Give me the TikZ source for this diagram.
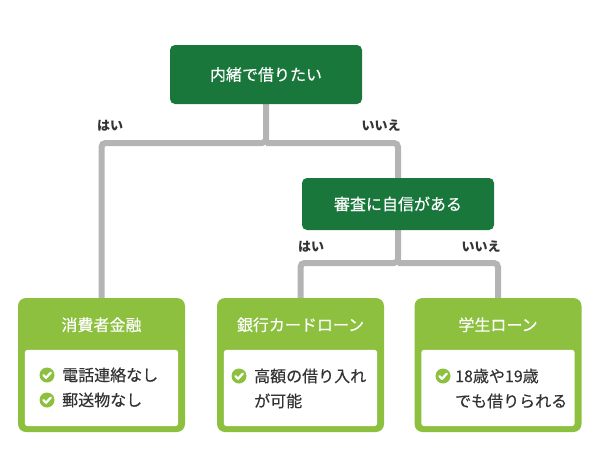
\documentclass[tikz,border=0pt]{standalone}
\usepackage{fontspec}
\setmainfont{Noto Sans CJK JP}
\newfontfamily\medfont{Noto Sans CJK JP}[FakeBold=0.35]
\usetikzlibrary{calc,backgrounds}
\definecolor{dgreen}{HTML}{1A773C}
\definecolor{lgreen}{HTML}{8DC03F}
\definecolor{lgray}{HTML}{B4B4B4}
\definecolor{txt}{HTML}{333333}
\begin{document}
\begin{tikzpicture}[x=1pt,y=-1pt,
  dbox/.style={fill=dgreen, rounded corners=5pt, text=white, minimum width=192pt, inner sep=0pt, font=\medfont\fontsize{16}{18}\selectfont},
  lbox/.style={fill=lgreen, rounded corners=8pt, minimum width=167pt, minimum height=134pt, inner sep=0pt},
  head/.style={text=white, font=\medfont\fontsize{16}{18}\selectfont, inner sep=0pt},
  body/.style={text=txt, font=\medfont\fontsize{16}{18}\selectfont, inner sep=0pt, anchor=base west},
  yn/.style={text=txt, font=\fontsize{13}{15}\selectfont\bfseries, inner sep=0pt},
  conn/.style={draw=lgray, line width=6pt, rounded corners=4pt},
  chk/.pic={\fill[lgreen] (0,0) circle (7.5pt);
            \draw[white, line width=2.3pt, line cap=round, line join=round] (-3.6,0.2) -- (-1,2.8) -- (3.8,-2.4);}
]
\useasboundingbox (0,0) rectangle (600,475);
\node[dbox, minimum height=59pt] (top) at (266,74.5) {内緒で借りたい};
\node[dbox, minimum height=52pt] (q2) at (398,204) {審査に自信がある};
\node[lbox] (b1) at (101.5,365) {};
\node[lbox] (b2) at (300.5,365) {};
\node[lbox] (b3) at (498,365) {};
\foreach \b in {b1,b2,b3}{
  \fill[white, rounded corners=3pt] ($(\b.south west)+(7,-6)$) rectangle ($(\b.north east)+(-7,52)$);
}
\node[head] (h1) at ($(b1.north)+(0,27)$) {消費者金融};
\node[head] (h2) at ($(b2.north)+(0,27)$) {銀行カードローン};
\node[head] (h3) at ($(b3.north)+(0,27)$) {学生ローン};
\coordinate (j1) at (266,143);
\coordinate (j2) at (398,263);
\begin{scope}[on background layer]
  \draw[conn] (top.south) -- (j1) -| (b1.north);
  \draw[conn] (j1) -| (q2.north);
  \draw[conn] (q2.south) -- (j2) -| (b2.north);
  \draw[conn] (j2) -| (b3.north);
\end{scope}
\node[yn] (y1) at (110,126) {はい};
\node[yn] (n1) at (381,126) {いいえ};
\node[yn] (y2) at (311,247) {はい};
\node[yn] (n2) at (481,247) {いいえ};
% left box
\pic at (47,375) {chk};
\node[body] (t1a) at (62,381) {電話連絡なし};
\pic at (47,400) {chk};
\node[body] (t1b) at (62,406) {郵送物なし};
% middle box
\pic at (239,376) {chk};
\node[body] (t2a) at (254,382) {高額の借り入れ};
\node[body] (t2b) at (254,407) {が可能};
% right box
\pic at (443,376) {chk};
\node[body] (t3a) at (455,382) {18歳や19歳};
\node[body] (t3b) at (455,407) {でも借りられる};
\end{tikzpicture}
\end{document}
